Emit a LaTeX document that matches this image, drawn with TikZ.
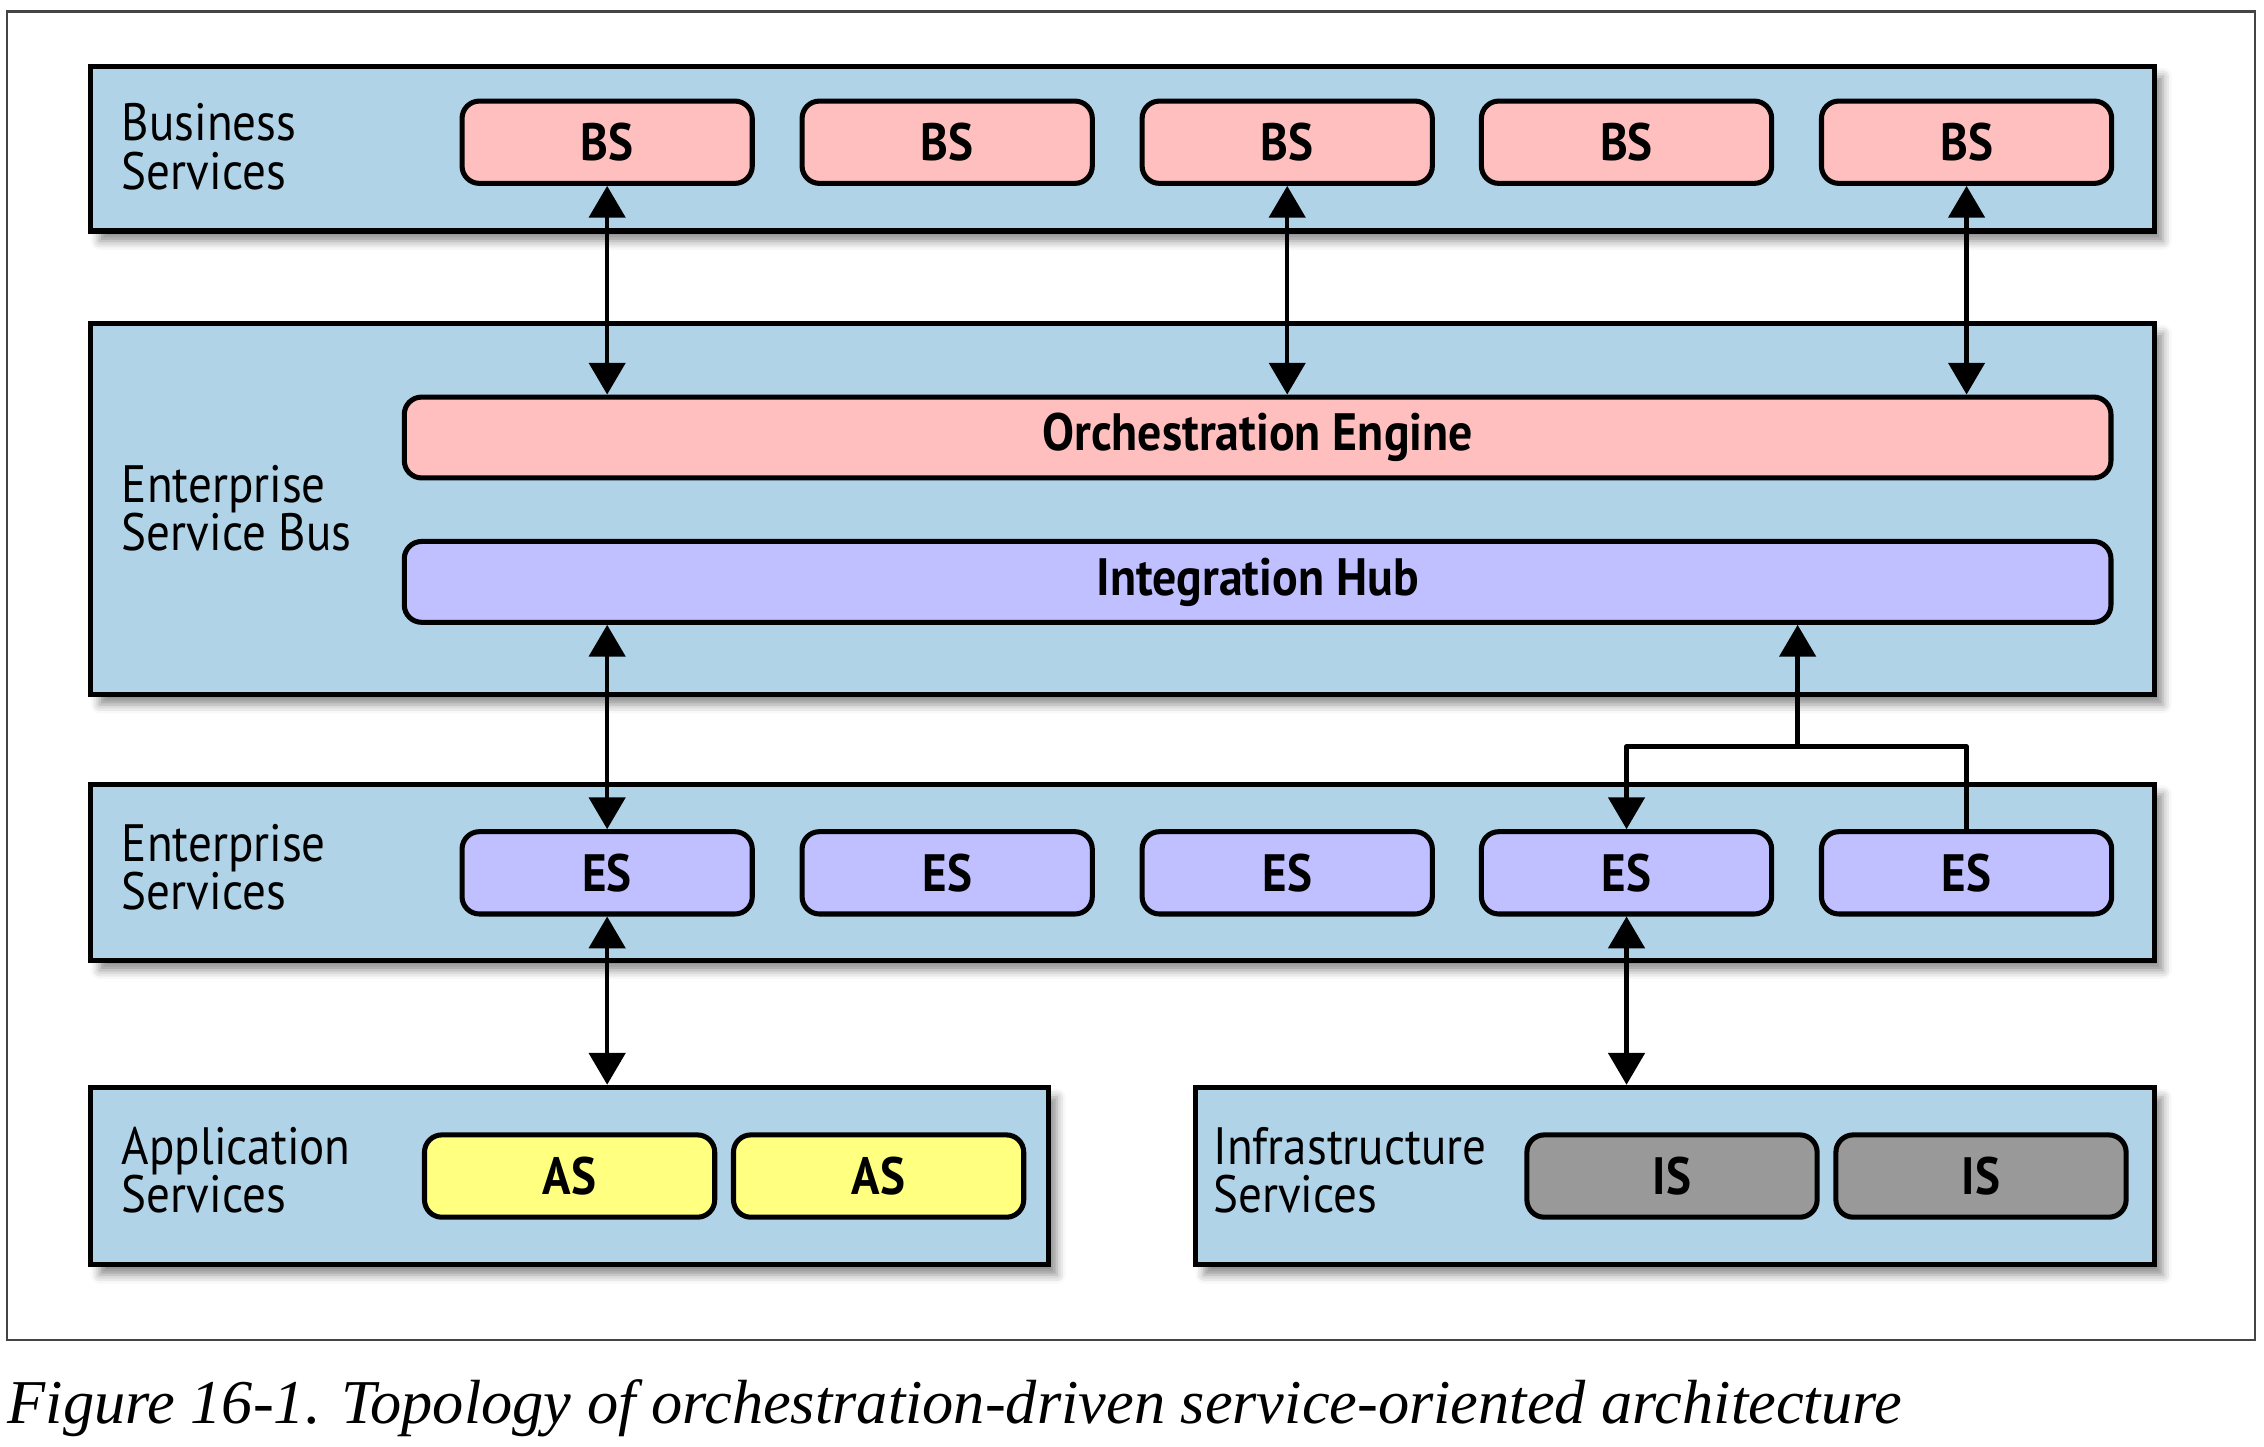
\documentclass[tikz,border=0pt]{standalone}
\usepackage{fontspec}
\setmainfont{Liberation Serif}
\newfontfamily\lbl[FakeStretch=0.895]{PT Sans}
\newfontfamily\lblw[FakeStretch=0.91]{PT Sans}
\usetikzlibrary{arrows.meta,shadows.blur}
\definecolor{layerblue}{HTML}{B1D3E8}
\definecolor{bspink}{HTML}{FFBFBF}
\definecolor{eslav}{HTML}{C0BFFF}
\definecolor{asyellow}{HTML}{FFFF80}
\definecolor{isgray}{HTML}{999999}
\definecolor{framegray}{HTML}{444444}
\tikzset{
  layer/.style={draw=black, line width=1.75pt, fill=layerblue, inner sep=0pt,
    blur shadow={shadow xshift=3pt, shadow yshift=-3.5pt, shadow blur radius=3pt, shadow opacity=45}},
  svcbox/.style={draw=black, line width=1.75pt, rounded corners=6pt, inner sep=0pt,
    minimum width=100.5pt, minimum height=28.5pt, font=\lbl\bfseries\fontsize{18.2}{18}\selectfont},
  widebox/.style={svcbox, minimum width=591pt, minimum height=28pt, font=\lblw\bfseries\fontsize{18.2}{18}\selectfont},
  lbltext/.style={anchor=base west, inner sep=0pt, align=left, font=\lbl\fontsize{18.2}{16.8}\selectfont},
  conn/.style={line width=1.5pt, line join=round},
  dbl/.style={conn, {Triangle[length=11pt,width=12.5pt]}-{Triangle[length=11pt,width=12.5pt]}},
  sgl/.style={conn, -{Triangle[length=11pt,width=12.5pt]}}
}
\begin{document}
\begin{tikzpicture}[x=0.5pt,y=-0.5pt]
\useasboundingbox (0,0) rectangle (1568,1001.5);
\draw[framegray, line width=0.75pt] (5,8) rectangle (1562,928);
% layers
\node[layer, minimum width=714.5pt, minimum height=57pt] (bsl) at (777.5,103) {};
\node[layer, minimum width=714.5pt, minimum height=128.5pt] (esb) at (777.5,352.5) {};
\node[layer, minimum width=714.5pt, minimum height=61pt] (esl) at (777.5,604) {};
\node[layer, minimum width=331.5pt, minimum height=61.5pt] (asl) at (394.5,814.5) {};
\node[layer, minimum width=332pt, minimum height=61.5pt] (isl) at (1160,814.5) {};
% layer labels (anchor at baseline of last line)
\node[lbltext] (lbs) at (84,131) {Business\\Services};
\node[lbltext] (lesb) at (84,381.5) {Enterprise\\Service Bus};
\node[lbltext] (les) at (84,630) {Enterprise\\Services};
\node[lbltext] (las) at (84,840) {Application\\Services};
\node[lbltext] (lis) at (840,840) {Infrastructure\\Services};
% service boxes
\foreach \i/\x in {1/420.5,2/656,3/891.5,4/1126.5,5/1362}{
  \node[svcbox, fill=bspink] (bs\i) at (\x,98.5) {BS};
  \node[svcbox, fill=eslav] (es\i) at (\x,604.5) {ES};
}
\node[widebox, fill=bspink] (orch) at (871,303) {Orchestration Engine};
\node[widebox, fill=eslav] (ih) at (871,403) {Integration Hub};
\node[svcbox, fill=asyellow] (as1) at (394.5,814.5) {AS};
\node[svcbox, fill=asyellow] (as2) at (608.5,814.5) {AS};
\node[svcbox, fill=isgray] (is1) at (1158,814.5) {IS};
\node[svcbox, fill=isgray] (is2) at (1372,814.5) {IS};
% connectors
\draw[dbl] (bs1.south) -- (bs1.south |- orch.north);
\draw[dbl] (bs3.south) -- (bs3.south |- orch.north);
\draw[dbl] (bs5.south) -- (bs5.south |- orch.north);
\draw[dbl] (ih.south -| es1.north) -- (es1.north);
\coordinate (tj) at (1245,517);
\draw[sgl] (tj) -- (tj |- ih.south);
\draw[sgl] (es5.north) |- (tj -| es4.north) -- (es4.north);
\draw[dbl] (es1.south) -- (es1.south |- asl.north);
\draw[dbl] (es4.south) -- (es4.south |- isl.north);
% caption
\node[anchor=base west, inner sep=0pt, font=\itshape\fontsize{21.6}{23}\selectfont] (cap) at (5,986) {Figure 16-1. Topology of orchestration-driven service-oriented architecture};
\end{tikzpicture}
\end{document}
